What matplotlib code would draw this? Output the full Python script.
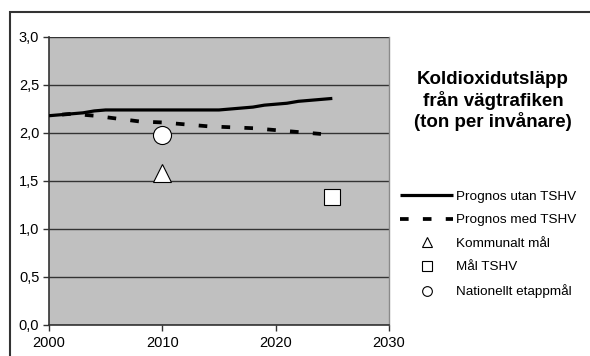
import matplotlib.pyplot as plt
from matplotlib.lines import Line2D
from matplotlib.patches import Rectangle

plt.rcParams['font.family'] = ['Liberation Sans', 'DejaVu Sans']

# prognos utan TSHV (ton CO2 per invånare)
years_utan = [2000, 2001, 2002, 2003, 2004, 2005, 2006, 2007, 2008, 2009, 2010, 2011, 2012,
              2013, 2014, 2015, 2016, 2017, 2018, 2019, 2020, 2021, 2022, 2023, 2024, 2025]
utan = [2.18, 2.19, 2.20, 2.21, 2.23, 2.24, 2.24, 2.24, 2.24, 2.24, 2.24, 2.24, 2.24,
        2.24, 2.24, 2.24, 2.25, 2.26, 2.27, 2.29, 2.30, 2.31, 2.33, 2.34, 2.35, 2.36]

# prognos med TSHV
years_med = [2000, 2002, 2004, 2006, 2008, 2010, 2012, 2014, 2016, 2018, 2020, 2022, 2024]
med = [2.18, 2.20, 2.18, 2.15, 2.12, 2.11, 2.09, 2.07, 2.06, 2.05, 2.03, 2.01, 1.99]

# målvärden
kommunalt_year, kommunalt = [2010], [1.58]
tshv_year, tshv = [2025], [1.33]
etapp_year, etapp = [2010], [1.98]

x_ticks = [2000, 2010, 2020, 2030]
y_ticks = [0.0, 0.5, 1.0, 1.5, 2.0, 2.5, 3.0]
y_labels = ['0,0', '0,5', '1,0', '1,5', '2,0', '2,5', '3,0']

fig = plt.figure(figsize=(5.9, 3.56), dpi=100)
ax = fig.add_axes([49 / 590, 31 / 356, 340 / 590, 288 / 356])
ax.set_facecolor('#c0c0c0')

ax.plot(years_utan, utan, color='black', lw=2.3, solid_capstyle='butt', zorder=3)
ax.plot(years_med, med, color='black', lw=2.7, linestyle=(2.6, (2.3, 3.8)), zorder=3)
ax.plot(kommunalt_year, kommunalt, marker='^', ms=13, mfc='white', mec='black', mew=0.8,
        linestyle='none', zorder=4)
ax.plot(tshv_year, tshv, marker='s', ms=12, mfc='white', mec='black', mew=0.8,
        linestyle='none', zorder=4)
ax.plot(etapp_year, etapp, marker='o', ms=13, mfc='white', mec='black', mew=0.8,
        linestyle='none', zorder=4)

ax.set_xlim(2000, 2030)
ax.set_ylim(0, 3.0)
ax.set_xticks(x_ticks)
ax.set_yticks(y_ticks)
ax.set_yticklabels(y_labels)
ax.tick_params(direction='out', length=4, width=1, color='#333333', labelsize=10.5, pad=3)
ax.tick_params(axis='x', pad=4)
ax.yaxis.grid(True, color='#333333', lw=1)
ax.set_axisbelow(True)
for side in ['left', 'bottom']:
    ax.spines[side].set_color('#333333')
    ax.spines[side].set_linewidth(1.2)
ax.spines['top'].set_visible(False)
ax.spines['right'].set_color('#8a8a8a')
ax.spines['right'].set_linewidth(1)

# yttre ram runt diagrammet
fig.patches.append(Rectangle((10 / 590, -0.1), 1.2, 1.1 - 12 / 356, transform=fig.transFigure,
                             fill=False, edgecolor='#333333', lw=1.5))

fig.text(493 / 590, 1 - 101 / 356, 'Koldioxidutsläpp\nfrån vägtrafiken\n(ton per invånare)',
         ha='center', va='center', fontsize=13.5, fontweight='bold', linespacing=1.15)

handles = [
    Line2D([], [], color='black', lw=2.3, solid_capstyle='butt'),
    Line2D([], [], color='black', lw=2.7, linestyle=(0, (2.3, 3.8))),
    Line2D([], [], marker='^', ms=7, mfc='white', mec='black', mew=0.8, linestyle='none'),
    Line2D([], [], marker='s', ms=6.5, mfc='white', mec='black', mew=0.8, linestyle='none'),
    Line2D([], [], marker='o', ms=7, mfc='white', mec='black', mew=0.8, linestyle='none'),
]
labels = ['Prognos utan TSHV', 'Prognos med TSHV', 'Kommunalt mål', 'Mål TSHV',
          'Nationellt etappmål']
fig.legend(handles, labels, loc='upper left', bbox_to_anchor=(391 / 590, 1 - 181 / 356),
           frameon=False, fontsize=9.7, handlelength=3.9, handletextpad=0.2,
           labelspacing=0.82, borderpad=0.2)

fig.savefig('out.png', dpi=100)
